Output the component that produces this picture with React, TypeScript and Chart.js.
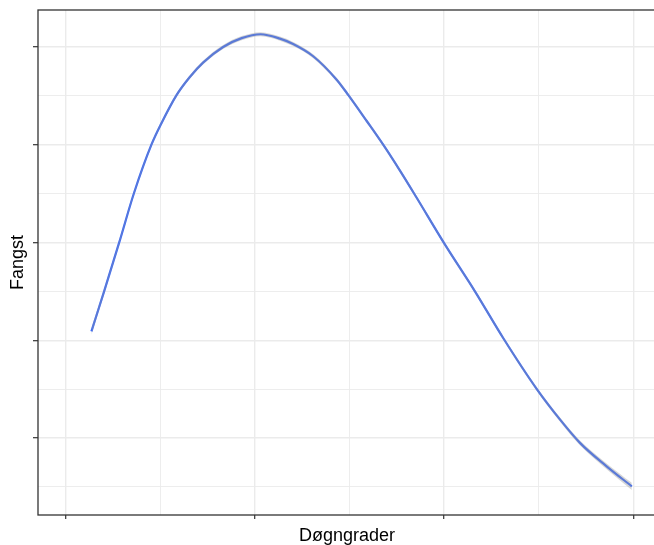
import React, { useEffect, useRef } from "react";
import { Chart, registerables } from "chart.js";

Chart.register(...registerables);

// Smoothed fit of catch (Fangst) vs degree-days (Døgngrader)
const xValues = [0.136, 0.203, 0.282, 0.361, 0.453, 0.506, 0.585, 0.655, 0.726, 0.832, 0.93, 1.03, 1.132, 1.202, 1.308, 1.432, 1.493, 1.59, 1.678, 1.765, 1.851, 2.004, 2.163, 2.313, 2.49, 2.612, 2.718, 2.859, 2.992];
const yValues = [1.091, 1.5, 1.995, 2.506, 3.0, 3.22, 3.505, 3.69, 3.84, 4.0, 4.09, 4.13, 4.085, 4.03, 3.905, 3.665, 3.51, 3.245, 3.0, 2.74, 2.47, 1.98, 1.5, 1.02, 0.5, 0.19, -0.05, -0.29, -0.495];
const seValues = [0.036, 0.03, 0.025, 0.022, 0.02, 0.019, 0.019, 0.019, 0.019, 0.02, 0.021, 0.021, 0.021, 0.021, 0.02, 0.019, 0.018, 0.018, 0.018, 0.018, 0.018, 0.018, 0.018, 0.019, 0.02, 0.022, 0.025, 0.03, 0.036];

const xGridValues = [0, 0.5, 1, 1.5, 2, 2.5, 3];
const yGridValues = [-0.5, 0, 0.5, 1, 1.5, 2, 2.5, 3, 3.5, 4];

const xTitle = "Døgngrader";
const yTitle = "Fangst";

const FONT = "'Liberation Sans', Arial, sans-serif";

const panelBorder = {
  id: "panelBorder",
  afterDatasetsDraw(chart: any) {
    const { ctx, chartArea } = chart;
    ctx.save();
    ctx.strokeStyle = "#333333";
    ctx.lineWidth = 1.3;
    ctx.strokeRect(chartArea.left, chartArea.top, chartArea.right - chartArea.left, chartArea.bottom - chartArea.top);
    ctx.restore();
  },
};

const isMajor = (v: number) => Math.abs(v - Math.round(v)) < 1e-9;

export default function App() {
  const ref = useRef<HTMLCanvasElement>(null);
  useEffect(() => {
    if (!ref.current) return;
    const main = xValues.map((x, i) => ({ x, y: yValues[i] }));
    const lower = xValues.map((x, i) => ({ x, y: yValues[i] - seValues[i] }));
    const upper = xValues.map((x, i) => ({ x, y: yValues[i] + seValues[i] }));
    const gridColor = "#ebebeb";
    const chart = new Chart(ref.current, {
      type: "line",
      data: {
        datasets: [
          { data: lower, borderWidth: 0, borderColor: "rgba(0,0,0,0)", pointRadius: 0, fill: false, cubicInterpolationMode: "monotone" },
          { data: upper, borderWidth: 0, borderColor: "rgba(0,0,0,0)", pointRadius: 0, fill: "-1", backgroundColor: "rgba(153,153,153,0.4)", cubicInterpolationMode: "monotone" },
          { data: main, borderColor: "#3366FF", borderWidth: 2.2, pointRadius: 0, fill: false, cubicInterpolationMode: "monotone" },
        ],
      },
      options: {
        animation: false,
        responsive: false,
        maintainAspectRatio: false,
        layout: { padding: { top: 10, right: 2, left: 0, bottom: 0 } },
        plugins: { legend: { display: false }, tooltip: { enabled: false } },
        scales: {
          x: {
            type: "linear",
            min: -0.1465,
            max: 3.12,
            afterBuildTicks: (s: any) => {
              s.ticks = xGridValues.map((v) => ({ value: v }));
            },
            afterFit: (s: any) => {
              s.height = 30;
            },
            ticks: { display: false },
            border: { display: false },
            grid: {
              color: gridColor,
              lineWidth: (c: any) => (isMajor(c.tick.value) ? 1.4 : 0.9),
              drawTicks: true,
              tickLength: 4,
              tickColor: (c: any) => (isMajor(c.tick.value) ? "#333333" : "rgba(0,0,0,0)"),
              tickWidth: 1.2,
            },
            title: {
              display: true,
              text: xTitle,
              color: "#000000",
              font: { family: FONT, size: 18, lineHeight: 1 },
              padding: { top: 0, bottom: 0 },
            },
          },
          y: {
            type: "linear",
            min: -0.788,
            max: 4.378,
            afterBuildTicks: (s: any) => {
              s.ticks = yGridValues.map((v) => ({ value: v }));
            },
            afterFit: (s: any) => {
              s.width = 38;
            },
            ticks: { display: false },
            border: { display: false },
            grid: {
              color: gridColor,
              lineWidth: (c: any) => (isMajor(c.tick.value) ? 1.4 : 0.9),
              drawTicks: true,
              tickLength: 5,
              tickColor: (c: any) => (isMajor(c.tick.value) ? "#333333" : "rgba(0,0,0,0)"),
              tickWidth: 1.2,
            },
            title: {
              display: true,
              text: yTitle,
              color: "#000000",
              font: { family: FONT, size: 18, lineHeight: 1 },
              padding: { top: 9, bottom: 0 },
            },
          },
        },
      },
      plugins: [panelBorder],
    } as any);
    return () => chart.destroy();
  }, []);
  return (
    <div style={{ position: "absolute", left: 0, top: 0, width: 654, height: 545, overflow: "hidden", background: "#ffffff" }}>
      <canvas ref={ref} width={658} height={545} style={{ display: "block" }} />
    </div>
  );
}
